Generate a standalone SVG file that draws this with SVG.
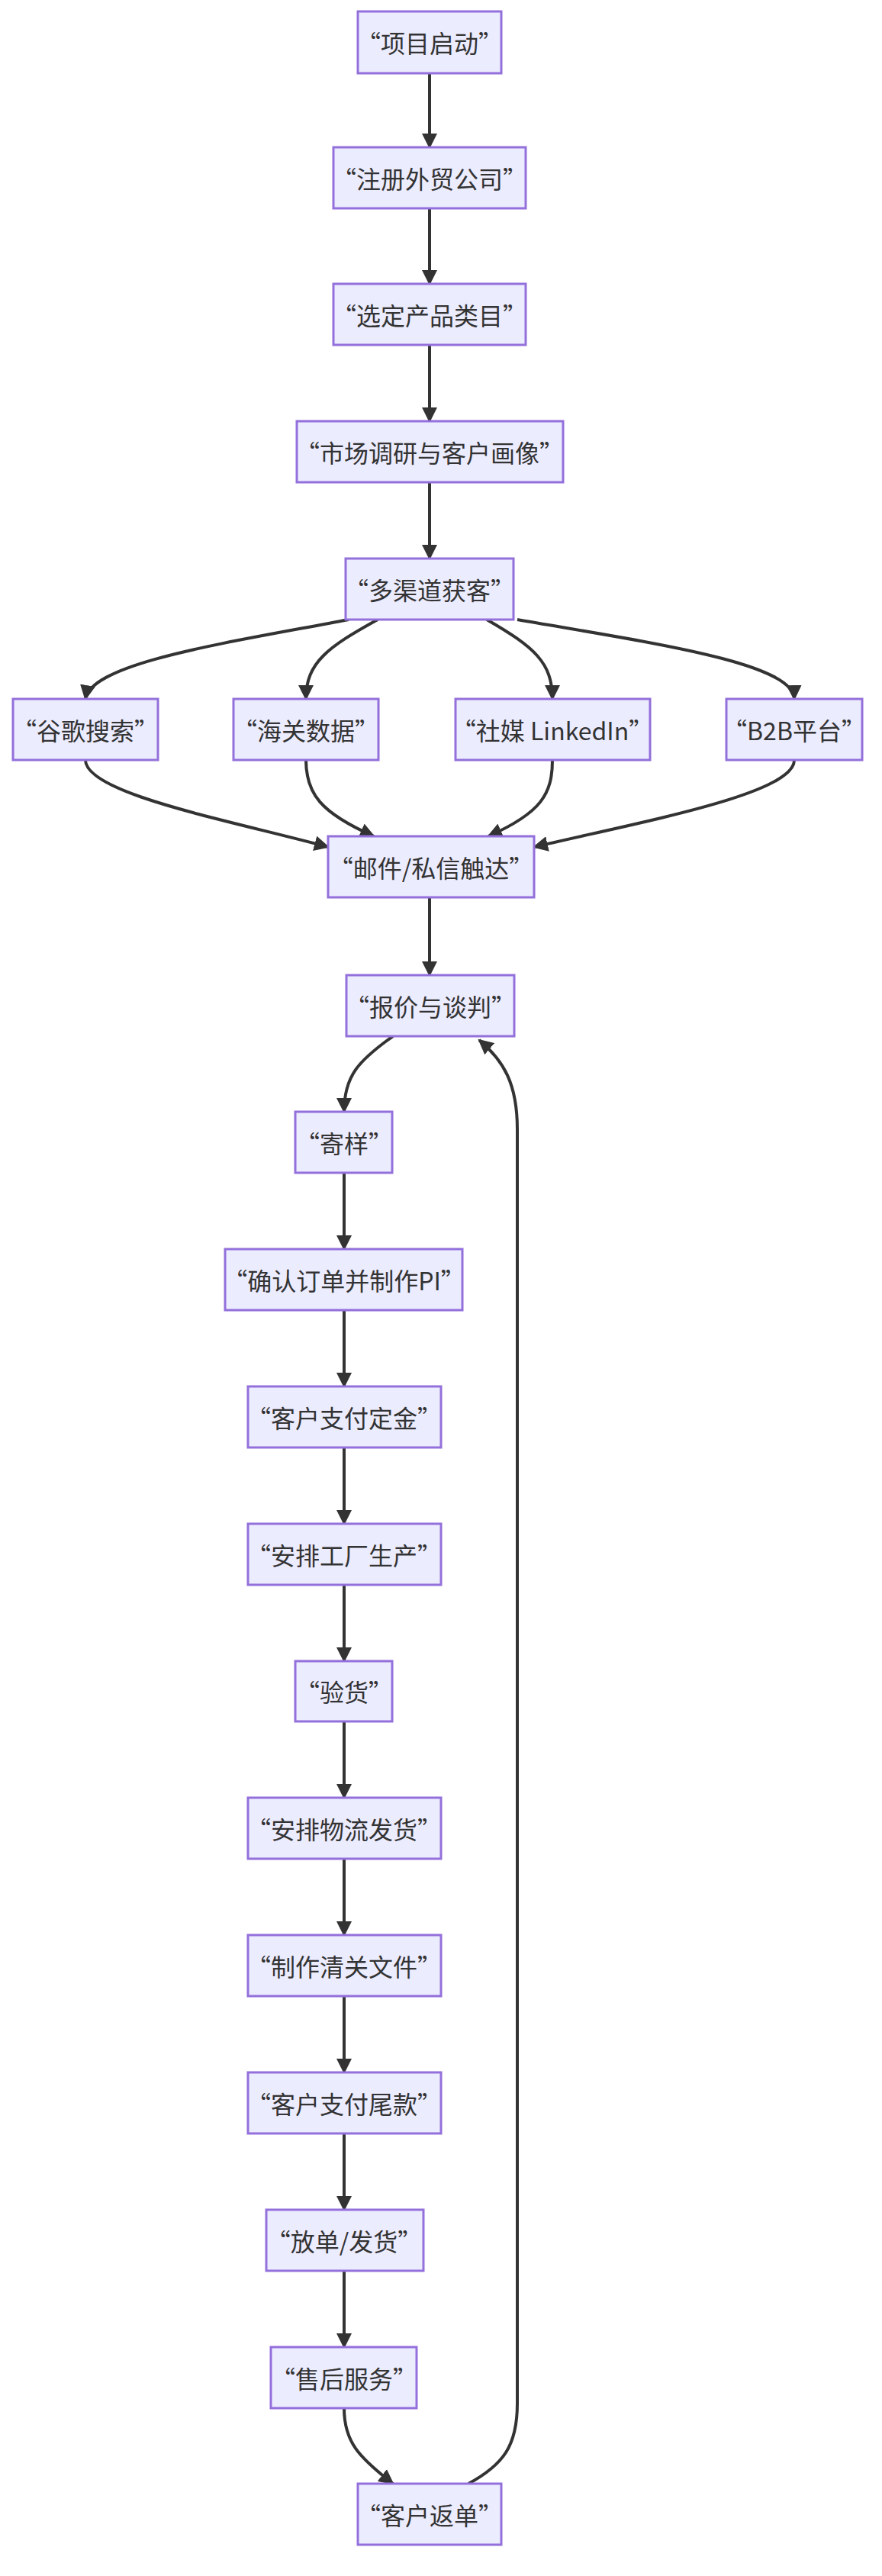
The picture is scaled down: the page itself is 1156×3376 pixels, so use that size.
<svg xmlns="http://www.w3.org/2000/svg" width="1156" height="3376" viewBox="0 0 1156 3376">
<style>
.n rect{fill:#ececff;stroke:#9370db;stroke-width:3}
.n text{font-family:"Noto Sans CJK SC","Liberation Sans",sans-serif;font-size:32px;fill:#333;text-anchor:middle;dominant-baseline:central}
.e path{fill:none;stroke:#333;stroke-width:4}
</style>
<defs><marker id="a" viewBox="0 0 10 10" refX="9" refY="5" markerWidth="5" markerHeight="5" orient="auto"><path d="M0,0L10,5L0,10z" fill="#333"/></marker></defs>
<rect width="1156" height="3376" fill="#fff"/>
<g class="e" marker-end="url(#a)">
<path d="M563,96V193"/>
<path d="M563,273V372"/>
<path d="M563,452V552"/>
<path d="M563,632V732"/>
<path d="M457,812C300,842 120,868 112,916" marker-end="url(#a)"/>
<path d="M495,812C430,848 401,868 401,916" marker-end="url(#a)"/>
<path d="M638,812C700,848 724,868 724,916" marker-end="url(#a)"/>
<path d="M678,812C850,842 1040,868 1041,916" marker-end="url(#a)"/>
<path d="M112,996C112,1040 300,1075 430,1110" marker-end="url(#a)"/>
<path d="M401,996C401,1040 420,1065 490,1096" marker-end="url(#a)"/>
<path d="M724,996C724,1040 710,1065 640,1096" marker-end="url(#a)"/>
<path d="M1041,996C1041,1040 850,1075 700,1110" marker-end="url(#a)"/>
<path d="M563,1176V1278"/>
<path d="M515,1358C470,1390 451,1410 451,1457"/>
<path d="M451,1537V1637"/>
<path d="M451,1717V1817"/>
<path d="M451,1897V1997"/>
<path d="M451,2077V2177"/>
<path d="M451,2256V2356"/>
<path d="M451,2436V2536"/>
<path d="M451,2616V2716"/>
<path d="M451,2796V2896"/>
<path d="M451,2976V3076"/>
<path d="M451,3156C451,3200 470,3220 515,3255"/>
<path d="M614,3255C660,3230 678,3205 678,3150V1480C678,1420 660,1390 628,1363"/>
</g>
<g id="n1" class="n"><rect x="469" y="15" width="188" height="81"/><text x="563" y="55">“项目启动”</text></g>
<g id="n2" class="n"><rect x="437" y="193" width="252" height="80"/><text x="563" y="233">“注册外贸公司”</text></g>
<g id="n3" class="n"><rect x="437" y="372" width="252" height="80"/><text x="563" y="412">“选定产品类目”</text></g>
<g id="n4" class="n"><rect x="389" y="552" width="349" height="80"/><text x="563" y="592">“市场调研与客户画像”</text></g>
<g id="n5" class="n"><rect x="453" y="732" width="220" height="80"/><text x="563" y="772">“多渠道获客”</text></g>
<g id="n6" class="n"><rect x="17" y="916" width="190" height="80"/><text x="112" y="956">“谷歌搜索”</text></g>
<g id="n7" class="n"><rect x="306" y="916" width="190" height="80"/><text x="401" y="956">“海关数据”</text></g>
<g id="n8" class="n"><rect x="597" y="916" width="255" height="80"/><text x="724" y="956">“社媒 LinkedIn”</text></g>
<g id="n9" class="n"><rect x="952" y="916" width="178" height="80"/><text x="1041" y="956">“B2B平台”</text></g>
<g id="n10" class="n"><rect x="430" y="1096" width="270" height="80"/><text x="565" y="1136">“邮件/私信触达”</text></g>
<g id="n11" class="n"><rect x="454" y="1278" width="220" height="80"/><text x="564" y="1318">“报价与谈判”</text></g>
<g id="n12" class="n"><rect x="387" y="1457" width="127" height="80"/><text x="451" y="1497">“寄样”</text></g>
<g id="n13" class="n"><rect x="295" y="1637" width="311" height="80"/><text x="451" y="1677">“确认订单并制作PI”</text></g>
<g id="n14" class="n"><rect x="325" y="1817" width="253" height="80"/><text x="451" y="1857">“客户支付定金”</text></g>
<g id="n15" class="n"><rect x="325" y="1997" width="253" height="80"/><text x="451" y="2037">“安排工厂生产”</text></g>
<g id="n16" class="n"><rect x="387" y="2177" width="127" height="79"/><text x="451" y="2216">“验货”</text></g>
<g id="n17" class="n"><rect x="325" y="2356" width="253" height="80"/><text x="451" y="2396">“安排物流发货”</text></g>
<g id="n18" class="n"><rect x="325" y="2536" width="253" height="80"/><text x="451" y="2576">“制作清关文件”</text></g>
<g id="n19" class="n"><rect x="325" y="2716" width="253" height="80"/><text x="451" y="2756">“客户支付尾款”</text></g>
<g id="n20" class="n"><rect x="349" y="2896" width="206" height="80"/><text x="451" y="2936">“放单/发货”</text></g>
<g id="n21" class="n"><rect x="355" y="3076" width="191" height="80"/><text x="451" y="3116">“售后服务”</text></g>
<g id="n22" class="n"><rect x="469" y="3255" width="188" height="80"/><text x="563" y="3295">“客户返单”</text></g>
</svg>
